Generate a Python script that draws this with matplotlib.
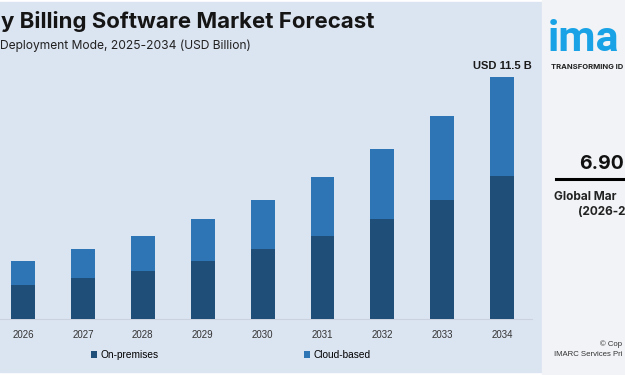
import matplotlib

matplotlib.use("Agg")
import matplotlib.pyplot as plt
import numpy as np
from matplotlib.patches import Rectangle

# Data (USD Billion)
years = ["2026", "2027", "2028", "2029", "2030", "2031", "2032", "2033", "2034"]
on_premises = [1.59, 1.92, 2.28, 2.74, 3.30, 3.93, 4.72, 5.64, 6.78]
cloud_based = [1.15, 1.38, 1.66, 1.98, 2.34, 2.80, 3.33, 3.99, 4.72]
series_names = ["On-premises", "Cloud-based"]
end_label = "USD 11.5 B"

W, H = 625, 375
DARK = "#1F4E79"
LIGHT = "#2E75B6"
BG = "#DBE4F1"


def fx(x):
    return x / W


def fy(y):
    return 1 - y / H


fig = plt.figure(figsize=(6.25, 3.75), dpi=100, facecolor="white")

# background blocks
fig.patches.append(Rectangle((0, fy(372)), fx(542), fy(2) - fy(372),
                             transform=fig.transFigure, color=BG, zorder=-10))
fig.patches.append(Rectangle((fx(542), 0), 1 - fx(542), 1,
                             transform=fig.transFigure, color="#F1F3F6", zorder=-10))

# plot area
ax = fig.add_axes([0, fy(318.7), fx(532), fy(45.2) - fy(318.7)])
ax.patch.set_alpha(0)
x = np.arange(len(years))
b1 = ax.bar(x, on_premises, width=0.4, color=DARK, label=series_names[0], zorder=3)
b2 = ax.bar(x, cloud_based, width=0.4, bottom=on_premises, color=LIGHT,
            label=series_names[1], zorder=3)
ax.set_xlim(-0.384, 8.497)
ax.set_ylim(0, 13)
ax.set_yticks([])
ax.set_xticks(x)
ax.set_xticklabels(years, fontsize=7, color="#333333", family="Liberation Sans")
ax.tick_params(axis="x", length=0, pad=8)
for s in ["top", "left", "right"]:
    ax.spines[s].set_visible(False)
ax.spines["bottom"].set_color("#C9D2DE")
ax.spines["bottom"].set_linewidth(0.8)

total_last = on_premises[-1] + cloud_based[-1]
ax.annotate(end_label, (x[-1], total_last), xytext=(0, 4), textcoords="offset points",
            ha="center", va="bottom", fontsize=8, fontweight="bold",
            color="#1A1A1A", family="Liberation Sans")

# legend
fig.legend(handles=[b1, b2], loc="center left", bbox_to_anchor=(fx(86), fy(355)),
           ncol=2, frameon=False, handlelength=0.6, handleheight=0.6,
           handletextpad=0.35, columnspacing=14.3, borderpad=0,
           prop={"family": "Liberation Sans", "size": 7.3})

# titles (the reference is cropped on the left)
fig.text(fx(1), fy(22), "y Billing Software Market Forecast", ha="left",
         va="center", fontsize=16, fontweight="bold", color="#151515", family="Inter")
fig.text(fx(0), fy(46), "Deployment Mode, 2025-2034 (USD Billion)",
         ha="left", va="center", fontsize=8.7, color="#222222", family="Inter")

# right panel (cropped on the right)
fig.text(fx(548), fy(51), "ima", ha="left", va="baseline", fontsize=31,
         fontweight="bold", color="#19A3E6", family="Roboto")
fig.text(fx(551), fy(67), "TRANSFORMING ID", ha="left", va="center",
         fontsize=5.5, fontweight="bold", color="#222222", family="Inter")
fig.text(fx(579), fy(169), "6.90", ha="left", va="baseline", fontsize=14,
         fontweight="bold", color="#111111", family="Inter")
fig.lines.append(plt.Line2D([fx(556), 1], [fy(179), fy(179)], transform=fig.transFigure,
                            color="black", linewidth=2.2))
fig.text(fx(554), fy(197), "Global Mar", ha="left", va="center",
         fontsize=8.5, fontweight="bold", color="#222222", family="Inter")
fig.text(fx(578), fy(212), "(2026-2", ha="left", va="center",
         fontsize=8.5, fontweight="bold", color="#222222", family="Inter")
fig.text(fx(600), fy(344), "© Cop", ha="left", va="center",
         fontsize=5.6, color="#333333", family="Liberation Sans")
fig.text(fx(554), fy(355), "IMARC Services Pri", ha="left", va="center",
         fontsize=5.6, color="#333333", family="Liberation Sans")

fig.savefig("out.png", dpi=100, facecolor="white")
